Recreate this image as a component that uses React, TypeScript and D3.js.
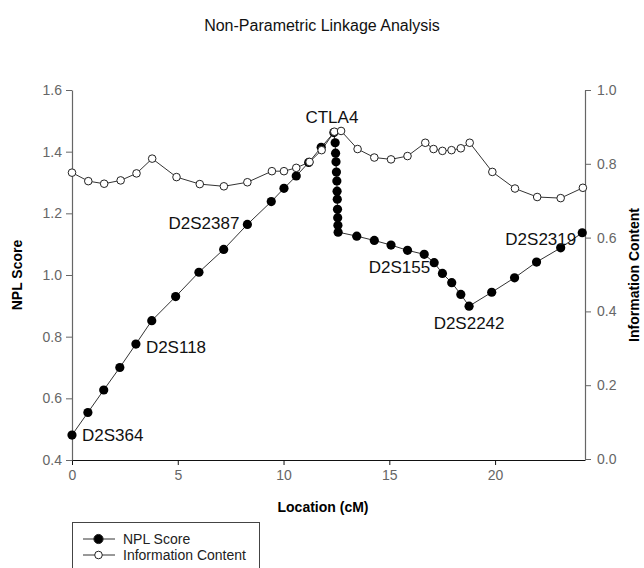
import React, { useEffect, useRef } from 'react';
import * as d3 from 'd3';

const WIDTH = 644;
const HEIGHT = 568;
const PLOT = { left: 72, right: 585, top: 90, bottom: 460 };
const FONT = '"Liberation Sans", Arial, sans-serif';

// NPL score along the chromosome (cM, score)
const nplLoc = [
  0, 0.75, 1.5, 2.26, 3.02, 3.77, 4.9, 6.0, 7.17, 8.29, 9.42, 10.02, 10.6, 11.19, 11.78,
  12.38, 12.44, 12.46, 12.48, 12.5, 12.52, 12.53, 12.54, 12.55, 12.56, 12.57, 12.58,
  13.46, 14.29, 15.08, 15.86, 16.65, 17.12, 17.51, 17.95, 18.38, 18.77,
  19.84, 20.92, 21.96, 23.1, 24.12,
];
const nplScore = [
  0.481, 0.554, 0.627, 0.7, 0.776, 0.852, 0.93, 1.009, 1.083, 1.164, 1.238, 1.281, 1.321, 1.365, 1.414,
  1.462, 1.429, 1.395, 1.367, 1.334, 1.305, 1.272, 1.246, 1.213, 1.186, 1.161, 1.139,
  1.126, 1.112, 1.097, 1.08, 1.067, 1.04, 1.005, 0.975, 0.937, 0.899,
  0.944, 0.991, 1.042, 1.088, 1.137,
];

// information content (cM, fraction)
const infoLoc = [
  0, 0.77, 1.52, 2.3, 3.05, 3.79, 4.94, 6.04, 7.18, 8.29, 9.45, 10.02, 10.6, 11.23, 11.8,
  12.4, 12.72, 13.5, 14.29, 15.08, 15.86, 16.7, 17.09, 17.51, 17.94, 18.38, 18.8,
  19.87, 20.94, 21.99, 23.1, 24.15,
];
const infoContent = [
  0.776, 0.753, 0.746, 0.755, 0.774, 0.814, 0.764, 0.745, 0.739, 0.75, 0.78, 0.78, 0.789, 0.805, 0.837,
  0.887, 0.889, 0.84, 0.817, 0.812, 0.821, 0.857, 0.84, 0.835, 0.837, 0.842, 0.857,
  0.778, 0.733, 0.71, 0.707, 0.735,
];

// marker names and the NPL point each one labels
const markerNames = ['D2S364', 'D2S118', 'D2S2387', 'CTLA4', 'D2S155', 'D2S2242', 'D2S2319'];
const markerPoint = [0, 4, 9, 15, 32, 36, 41];

const xTicks = [0, 5, 10, 15, 20];
const nplTicks = [0.4, 0.6, 0.8, 1.0, 1.2, 1.4, 1.6];
const infoTicks = [0, 0.2, 0.4, 0.6, 0.8, 1.0];

// label placement relative to its point: [dx, dy, anchor]
const labelPlace: [number, number, string][] = [
  [10, 6, 'start'],
  [10, 8.5, 'start'],
  [-8, 5, 'end'],
  [-2, -10, 'middle'],
  [-4, 10.5, 'end'],
  [0, 23, 'middle'],
  [-6, 12.5, 'end'],
];

export default function App() {
  const ref = useRef<SVGSVGElement>(null);

  useEffect(() => {
    const svg = d3.select(ref.current);
    svg.selectAll('*').remove();

    const x = d3.scaleLinear().domain([0, 24.25]).range([PLOT.left, PLOT.right]);
    const yL = d3.scaleLinear().domain([0.4, 1.6]).range([PLOT.bottom, PLOT.top]);
    const yR = d3.scaleLinear().domain([0, 1]).range([PLOT.bottom - 1, PLOT.top]);

    svg.append('text')
      .attr('x', 322).attr('y', 31)
      .attr('text-anchor', 'middle')
      .attr('font-size', 16)
      .attr('fill', '#111')
      .text('Non-Parametric Linkage Analysis');

    const styleAxis = (g: any, lineColor: string) => {
      g.selectAll('path').attr('stroke', lineColor).attr('stroke-width', 1.2);
      g.selectAll('line').attr('stroke', lineColor);
      g.selectAll('text').attr('fill', '#666').attr('font-size', 14).attr('font-family', FONT);
    };

    const xAxis = svg.append('g')
      .attr('transform', `translate(0,${PLOT.bottom})`)
      .call(d3.axisBottom(x).tickValues(xTicks).tickFormat(d3.format('d')).tickSize(5).tickSizeOuter(0).tickPadding(5));
    styleAxis(xAxis, '#111');

    const leftAxis = svg.append('g')
      .attr('transform', `translate(${PLOT.left},0)`)
      .call(d3.axisLeft(yL).tickValues(nplTicks).tickFormat(d3.format('.1f')).tickSize(6).tickSizeOuter(0).tickPadding(4));
    styleAxis(leftAxis, '#666');

    const rightAxis = svg.append('g')
      .attr('transform', `translate(${PLOT.right},0)`)
      .call(d3.axisRight(yR).tickValues(infoTicks).tickFormat(d3.format('.1f')).tickSize(6).tickSizeOuter(0).tickPadding(6));
    styleAxis(rightAxis, '#666');

    svg.append('text')
      .attr('transform', `translate(22,${(PLOT.top + PLOT.bottom) / 2}) rotate(-90)`)
      .attr('text-anchor', 'middle')
      .attr('font-size', 14).attr('font-weight', 'bold')
      .text('NPL Score');

    svg.append('text')
      .attr('transform', `translate(639,${(PLOT.top + PLOT.bottom) / 2}) rotate(-90)`)
      .attr('text-anchor', 'middle')
      .attr('font-size', 14).attr('font-weight', 'bold')
      .text('Information Content');

    svg.append('text')
      .attr('x', 323).attr('y', 512)
      .attr('text-anchor', 'middle')
      .attr('font-size', 14).attr('font-weight', 'bold')
      .text('Location (cM)');

    const npl = nplLoc.map((l, i) => [l, nplScore[i]] as [number, number]);
    const info = infoLoc.map((l, i) => [l, infoContent[i]] as [number, number]);

    svg.append('path')
      .datum(npl)
      .attr('d', d3.line<[number, number]>().x(d => x(d[0])).y(d => yL(d[1])))
      .attr('fill', 'none').attr('stroke', '#333').attr('stroke-width', 1);
    svg.append('path')
      .datum(info)
      .attr('d', d3.line<[number, number]>().x(d => x(d[0])).y(d => yR(d[1])))
      .attr('fill', 'none').attr('stroke', '#333').attr('stroke-width', 1);

    svg.append('g').selectAll('circle')
      .data(npl).enter().append('circle')
      .attr('cx', d => x(d[0])).attr('cy', d => yL(d[1]))
      .attr('r', 4.6).attr('fill', '#000');

    svg.append('g').selectAll('circle')
      .data(info).enter().append('circle')
      .attr('cx', d => x(d[0])).attr('cy', d => yR(d[1]))
      .attr('r', 3.8).attr('fill', '#fff').attr('stroke', '#222').attr('stroke-width', 1);

    svg.append('g').selectAll('text')
      .data(markerNames).enter().append('text')
      .attr('x', (_, i) => x(npl[markerPoint[i]][0]) + labelPlace[i][0])
      .attr('y', (_, i) => yL(npl[markerPoint[i]][1]) + labelPlace[i][1])
      .attr('text-anchor', (_, i) => labelPlace[i][2])
      .attr('font-size', 17).attr('fill', '#111')
      .text(d => d);

    // legend
    const legend = svg.append('g');
    legend.append('rect')
      .attr('x', 72.5).attr('y', 522.5).attr('width', 187).attr('height', 60)
      .attr('fill', '#fff').attr('stroke', '#444');
    const items = ['NPL Score', 'Information Content'];
    items.forEach((name, i) => {
      const ly = 539 + i * 16;
      legend.append('line')
        .attr('x1', 83).attr('x2', 115).attr('y1', ly).attr('y2', ly)
        .attr('stroke', '#333');
      legend.append('circle')
        .attr('cx', 98.5).attr('cy', ly)
        .attr('r', i === 0 ? 4.6 : 3.8)
        .attr('fill', i === 0 ? '#000' : '#fff')
        .attr('stroke', '#222');
      legend.append('text')
        .attr('x', 123).attr('y', ly + 5)
        .attr('font-size', 14).attr('fill', '#222')
        .text(name);
    });
  }, []);

  return (
    <svg
      ref={ref}
      width={WIDTH}
      height={HEIGHT}
      style={{ position: 'absolute', left: 0, top: 0, background: '#fff', fontFamily: FONT }}
    />
  );
}
